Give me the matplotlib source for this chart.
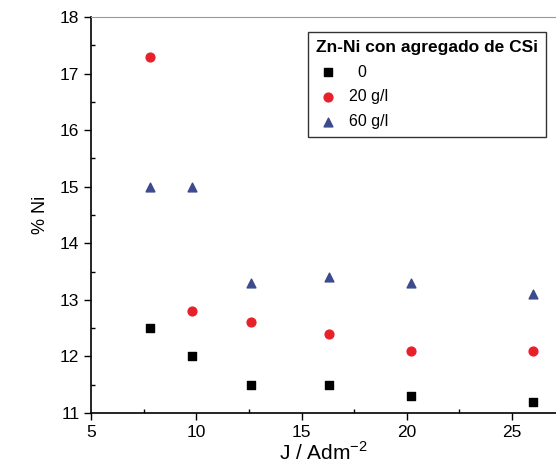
import matplotlib
matplotlib.use("Agg")
import matplotlib.pyplot as plt
from matplotlib.ticker import MultipleLocator

plt.rcParams["font.family"] = ["Liberation Sans", "DejaVu Sans"]

# corriente J / Adm^-2
j_vals = [7.8, 9.8, 12.6, 16.3, 20.2, 26.0]

# % Ni para cada concentración de CSi
ni_0 = [12.5, 12.0, 11.5, 11.5, 11.3, 11.2]
ni_20 = [17.3, 12.8, 12.6, 12.4, 12.1, 12.1]
ni_60 = [15.0, 15.0, 13.3, 13.4, 13.3, 13.1]

labels = ["  0", "20 g/l", "60 g/l"]


def main():
    fig = plt.figure(figsize=(5.56, 4.67), dpi=100)
    ax = fig.add_axes([0.164, 0.1156, 0.836, 0.848])

    ax.scatter(j_vals, ni_0, marker="s", s=36, color="black", label=labels[0], zorder=3)
    ax.scatter(j_vals, ni_20, marker="o", s=40, color="#e8202a", label=labels[1], zorder=3)
    ax.scatter(j_vals, ni_60, marker="^", s=40, color="#3c4a8e", label=labels[2], zorder=3)

    ax.set_xlim(5, 27.1)
    ax.set_ylim(11, 18)

    ax.xaxis.set_major_locator(MultipleLocator(5))
    ax.xaxis.set_minor_locator(MultipleLocator(2.5))
    ax.yaxis.set_major_locator(MultipleLocator(1))
    ax.yaxis.set_minor_locator(MultipleLocator(0.5))

    ax.tick_params(which="major", direction="out", length=5, width=1, labelsize=12.5)
    ax.tick_params(which="minor", direction="in", length=3, width=1)
    ax.tick_params(top=False, right=False, which="both")

    ax.spines["right"].set_visible(False)
    ax.spines["top"].set_color("#999999")
    ax.spines["top"].set_linewidth(0.8)
    ax.spines["left"].set_linewidth(1.2)
    ax.spines["bottom"].set_linewidth(1.2)

    ax.set_ylabel("% Ni", fontsize=13, labelpad=8)
    ax.set_xlabel("J / Adm$^{\\mathregular{-2}}$", fontsize=15, labelpad=1)

    leg = ax.legend(
        title="Zn-Ni con agregado de CSi",
        loc="upper right",
        bbox_to_anchor=(0.995, 0.982),
        fontsize=11.5,
        title_fontproperties={"weight": "bold", "size": 12.5},
        frameon=True,
        fancybox=False,
        edgecolor="black",
        handlelength=1.5,
        handletextpad=0.6,
        borderpad=0.5,
        labelspacing=0.6,
        alignment="left",
    )
    leg.get_frame().set_linewidth(1.0)

    fig.savefig("out.png", dpi=100)


main()
